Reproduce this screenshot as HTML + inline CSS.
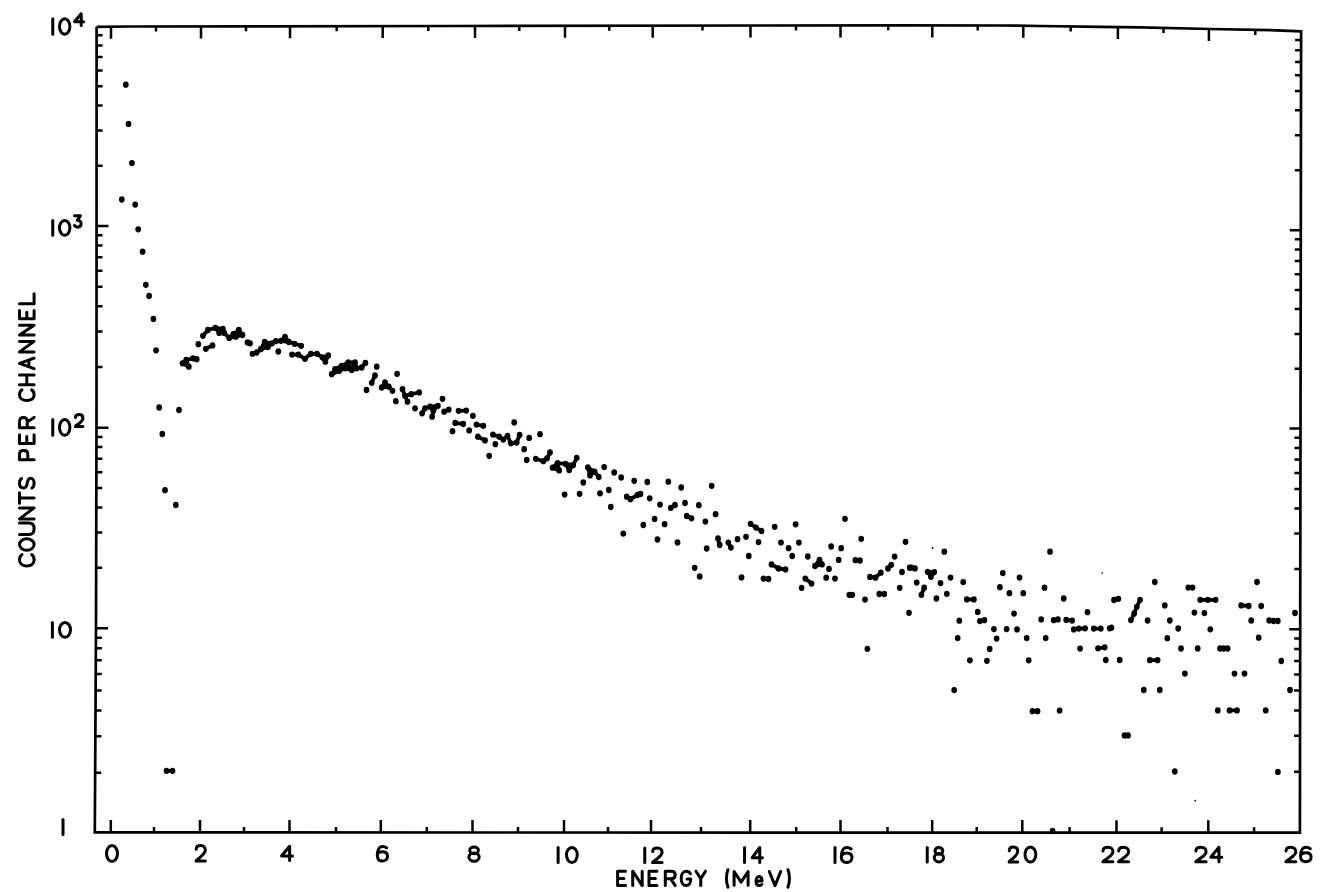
<!DOCTYPE html>
<html><head><meta charset="utf-8"><title>Counts per channel vs energy</title>
<style>html,body{margin:0;padding:0;background:#fff;width:1320px;height:892px;overflow:hidden;font-family:"Liberation Sans",sans-serif}svg{display:block}</style>
</head><body>
<svg width="1320" height="892" viewBox="0 0 1320 892"><polyline points="96.6,26.8 130.0,26.5 455.0,26.0 900.0,25.3 1000.0,25.5 1040.0,26.0 1100.0,26.8 1140.0,27.3 1210.0,29.0 1270.0,30.2 1301.1,31.3 1299.9,832.7 94.8,832.4 96.0,628.0 96.5,425.0 96.6,26.8" fill="none" stroke="#000" stroke-width="2.7" stroke-linejoin="miter"/>
<path d="M111.0 26.7V38.7M156.0 26.5V31.5M201.0 26.4V38.4M246.0 26.3V31.3M290.0 26.3V38.3M336.7 26.2V31.2M382.7 26.1V38.1M428.3 26.0V31.0M475.0 26.0V38.0M519.3 25.9V30.9M565.0 25.8V37.8M609.3 25.8V30.8M652.7 25.7V37.7M702.5 25.6V30.6M750.5 25.5V37.5M796.0 25.5V30.5M840.5 25.4V37.4M888.2 25.3V30.3M932.3 25.4V37.4M977.7 25.5V30.5M1023.3 25.8V37.8M1070.7 26.4V31.4M1117.9 27.0V39.0M1163.5 27.9V32.9M1208.9 29.0V41.0M1255.3 29.9V34.9M110.8 832.4V819.9M154.0 832.4V826.9M200.0 832.4V819.9M244.0 832.4V826.9M289.5 832.4V819.9M336.0 832.5V827.0M380.8 832.5V820.0M426.8 832.5V827.0M472.5 832.5V820.0M518.0 832.5V827.0M564.0 832.5V820.0M608.0 832.5V827.0M651.0 832.5V820.0M701.0 832.6V827.1M750.2 832.6V820.1M796.2 832.6V827.1M840.5 832.6V820.1M887.5 832.6V827.1M932.2 832.6V820.1M976.7 832.6V827.1M1022.3 832.6V820.1M1069.6 832.6V827.1M1116.5 832.7V820.2M1161.6 832.7V827.2M1208.3 832.7V820.2M1254.1 832.7V827.2M96.5 226.0H108.5M1300.8 230.2H1289.8M96.6 165.8H102.6M1300.9 170.2H1294.9M96.6 130.6H102.6M1300.9 135.2H1294.9M96.6 105.6H102.6M1301.0 110.3H1295.0M96.6 86.2H102.6M1301.0 91.0H1295.0M96.6 70.4H102.6M1301.0 75.2H1295.0M96.6 57.0H102.6M1301.1 61.9H1295.1M96.6 45.4H102.6M1301.1 50.3H1295.1M96.6 35.2H102.6M1301.1 40.1H1295.1M96.5 427.7H108.5M1300.5 428.5H1289.5M96.5 367.0H102.5M1300.6 368.8H1294.6M96.5 331.5H102.5M1300.6 333.9H1294.6M96.5 306.3H102.5M1300.7 309.1H1294.7M96.5 286.7H102.5M1300.7 289.9H1294.7M96.5 270.7H102.5M1300.7 274.2H1294.7M96.5 257.2H102.5M1300.8 260.9H1294.8M96.5 245.5H102.5M1300.8 249.4H1294.8M96.5 235.2H102.5M1300.8 239.3H1294.8M96.0 628.2H108.0M1300.2 629.3H1289.2M96.1 567.8H102.1M1300.3 568.9H1294.3M96.2 532.5H102.2M1300.3 533.5H1294.3M96.3 507.5H102.3M1300.4 508.4H1294.4M96.3 488.1H102.3M1300.4 488.9H1294.4M96.4 472.2H102.4M1300.4 473.0H1294.4M96.4 458.8H102.4M1300.5 459.6H1294.5M96.4 447.1H102.4M1300.5 448.0H1294.5M96.5 436.9H102.5M1300.5 437.7H1294.5M95.2 772.7H101.2M1300.0 771.7H1294.0M95.4 736.3H101.4M1300.0 735.8H1294.0M95.5 710.5H101.5M1300.1 710.4H1294.1M95.6 690.5H101.6M1300.1 690.6H1294.1M95.7 674.1H101.7M1300.1 674.5H1294.1M95.8 660.2H101.8M1300.2 660.9H1294.2M95.9 648.2H101.9M1300.2 649.0H1294.2M95.9 637.7H101.9M1300.2 638.6H1294.2" stroke="#000" stroke-width="2.5" fill="none"/>
<g fill="#000"><ellipse cx="125.8" cy="84.7" rx="2.85" ry="3.15"/><ellipse cx="128.5" cy="123.9" rx="2.85" ry="3.15"/><ellipse cx="131.9" cy="163.1" rx="2.85" ry="3.15"/><ellipse cx="121.8" cy="199.5" rx="2.85" ry="3.15"/><ellipse cx="135.2" cy="204.6" rx="2.85" ry="3.15"/><ellipse cx="138.2" cy="229.3" rx="2.85" ry="3.15"/><ellipse cx="142.6" cy="251.7" rx="2.85" ry="3.15"/><ellipse cx="145.8" cy="284.8" rx="2.85" ry="3.15"/><ellipse cx="149.1" cy="296.0" rx="2.85" ry="3.15"/><ellipse cx="153.4" cy="318.9" rx="2.85" ry="3.15"/><ellipse cx="156.1" cy="350.3" rx="2.85" ry="3.15"/><ellipse cx="159.2" cy="407.5" rx="2.85" ry="3.15"/><ellipse cx="179.0" cy="410.0" rx="2.85" ry="3.15"/><ellipse cx="162.3" cy="434.0" rx="2.85" ry="3.15"/><ellipse cx="165.0" cy="490.2" rx="2.85" ry="3.15"/><ellipse cx="175.8" cy="505.0" rx="2.85" ry="3.15"/><ellipse cx="166.5" cy="770.8" rx="2.85" ry="3.15"/><ellipse cx="172.5" cy="770.8" rx="2.85" ry="3.15"/><ellipse cx="182.5" cy="363.3" rx="2.85" ry="3.15"/><ellipse cx="186.2" cy="360.0" rx="2.85" ry="3.15"/><ellipse cx="188.8" cy="366.7" rx="2.85" ry="3.15"/><ellipse cx="192.9" cy="358.3" rx="2.85" ry="3.15"/><ellipse cx="196.7" cy="359.2" rx="2.85" ry="3.15"/><ellipse cx="198.3" cy="344.2" rx="2.85" ry="3.15"/><ellipse cx="205.8" cy="348.8" rx="2.85" ry="3.15"/><ellipse cx="212.5" cy="345.4" rx="2.85" ry="3.15"/><ellipse cx="202.9" cy="335.8" rx="2.85" ry="3.15"/><ellipse cx="207.9" cy="330.0" rx="2.85" ry="3.15"/><ellipse cx="215.4" cy="327.9" rx="2.85" ry="3.15"/><ellipse cx="219.2" cy="332.9" rx="2.85" ry="3.15"/><ellipse cx="222.9" cy="328.8" rx="2.85" ry="3.15"/><ellipse cx="224.2" cy="332.9" rx="2.85" ry="3.15"/><ellipse cx="229.2" cy="337.9" rx="2.85" ry="3.15"/><ellipse cx="233.3" cy="334.2" rx="2.85" ry="3.15"/><ellipse cx="238.8" cy="330.0" rx="2.85" ry="3.15"/><ellipse cx="235.8" cy="336.7" rx="2.85" ry="3.15"/><ellipse cx="242.5" cy="335.0" rx="2.85" ry="3.15"/><ellipse cx="247.5" cy="342.5" rx="2.85" ry="3.15"/><ellipse cx="250.0" cy="343.3" rx="2.85" ry="3.15"/><ellipse cx="252.5" cy="353.8" rx="2.85" ry="3.15"/><ellipse cx="256.7" cy="352.5" rx="2.85" ry="3.15"/><ellipse cx="260.8" cy="349.2" rx="2.85" ry="3.15"/><ellipse cx="264.6" cy="342.0" rx="2.85" ry="3.15"/><ellipse cx="267.9" cy="347.0" rx="2.85" ry="3.15"/><ellipse cx="272.0" cy="343.3" rx="2.85" ry="3.15"/><ellipse cx="275.8" cy="341.2" rx="2.85" ry="3.15"/><ellipse cx="278.3" cy="351.5" rx="2.85" ry="3.15"/><ellipse cx="280.8" cy="340.8" rx="2.85" ry="3.15"/><ellipse cx="285.0" cy="337.0" rx="2.85" ry="3.15"/><ellipse cx="288.8" cy="342.0" rx="2.85" ry="3.15"/><ellipse cx="294.6" cy="343.8" rx="2.85" ry="3.15"/><ellipse cx="301.2" cy="345.8" rx="2.85" ry="3.15"/><ellipse cx="292.0" cy="354.6" rx="2.85" ry="3.15"/><ellipse cx="298.3" cy="354.6" rx="2.85" ry="3.15"/><ellipse cx="305.0" cy="358.8" rx="2.85" ry="3.15"/><ellipse cx="310.8" cy="353.8" rx="2.85" ry="3.15"/><ellipse cx="317.0" cy="353.8" rx="2.85" ry="3.15"/><ellipse cx="322.5" cy="357.5" rx="2.85" ry="3.15"/><ellipse cx="325.4" cy="361.7" rx="2.85" ry="3.15"/><ellipse cx="328.3" cy="355.4" rx="2.85" ry="3.15"/><ellipse cx="331.7" cy="374.2" rx="2.85" ry="3.15"/><ellipse cx="335.0" cy="369.2" rx="2.85" ry="3.15"/><ellipse cx="339.2" cy="370.8" rx="2.85" ry="3.15"/><ellipse cx="341.7" cy="365.8" rx="2.85" ry="3.15"/><ellipse cx="345.0" cy="368.3" rx="2.85" ry="3.15"/><ellipse cx="348.3" cy="362.5" rx="2.85" ry="3.15"/><ellipse cx="351.7" cy="370.0" rx="2.85" ry="3.15"/><ellipse cx="355.0" cy="362.5" rx="2.85" ry="3.15"/><ellipse cx="356.7" cy="368.3" rx="2.85" ry="3.15"/><ellipse cx="361.7" cy="367.5" rx="2.85" ry="3.15"/><ellipse cx="365.4" cy="362.9" rx="2.85" ry="3.15"/><ellipse cx="376.7" cy="366.7" rx="2.85" ry="3.15"/><ellipse cx="375.0" cy="375.4" rx="2.85" ry="3.15"/><ellipse cx="371.7" cy="382.8" rx="2.85" ry="3.15"/><ellipse cx="381.7" cy="387.5" rx="2.85" ry="3.15"/><ellipse cx="385.0" cy="382.5" rx="2.85" ry="3.15"/><ellipse cx="388.8" cy="386.7" rx="2.85" ry="3.15"/><ellipse cx="392.5" cy="390.8" rx="2.85" ry="3.15"/><ellipse cx="397.1" cy="373.8" rx="2.85" ry="3.15"/><ellipse cx="402.5" cy="389.2" rx="2.85" ry="3.15"/><ellipse cx="405.0" cy="395.8" rx="2.85" ry="3.15"/><ellipse cx="407.5" cy="401.7" rx="2.85" ry="3.15"/><ellipse cx="395.8" cy="401.2" rx="2.85" ry="3.15"/><ellipse cx="411.2" cy="394.2" rx="2.85" ry="3.15"/><ellipse cx="419.2" cy="392.5" rx="2.85" ry="3.15"/><ellipse cx="415.0" cy="408.3" rx="2.85" ry="3.15"/><ellipse cx="422.1" cy="413.3" rx="2.85" ry="3.15"/><ellipse cx="425.0" cy="408.3" rx="2.85" ry="3.15"/><ellipse cx="430.0" cy="406.7" rx="2.85" ry="3.15"/><ellipse cx="432.1" cy="416.7" rx="2.85" ry="3.15"/><ellipse cx="433.3" cy="410.8" rx="2.85" ry="3.15"/><ellipse cx="437.9" cy="405.8" rx="2.85" ry="3.15"/><ellipse cx="442.5" cy="398.8" rx="2.85" ry="3.15"/><ellipse cx="444.2" cy="411.7" rx="2.85" ry="3.15"/><ellipse cx="448.8" cy="409.6" rx="2.85" ry="3.15"/><ellipse cx="458.5" cy="410.8" rx="2.85" ry="3.15"/><ellipse cx="466.2" cy="410.6" rx="2.85" ry="3.15"/><ellipse cx="472.9" cy="415.8" rx="2.85" ry="3.15"/><ellipse cx="455.2" cy="422.9" rx="2.85" ry="3.15"/><ellipse cx="463.3" cy="424.0" rx="2.85" ry="3.15"/><ellipse cx="476.5" cy="424.6" rx="2.85" ry="3.15"/><ellipse cx="452.5" cy="431.2" rx="2.85" ry="3.15"/><ellipse cx="483.3" cy="425.8" rx="2.85" ry="3.15"/><ellipse cx="469.2" cy="430.4" rx="2.85" ry="3.15"/><ellipse cx="477.9" cy="436.7" rx="2.85" ry="3.15"/><ellipse cx="485.0" cy="440.4" rx="2.85" ry="3.15"/><ellipse cx="489.2" cy="455.8" rx="2.85" ry="3.15"/><ellipse cx="492.9" cy="434.6" rx="2.85" ry="3.15"/><ellipse cx="499.2" cy="436.7" rx="2.85" ry="3.15"/><ellipse cx="495.4" cy="444.2" rx="2.85" ry="3.15"/><ellipse cx="503.3" cy="439.6" rx="2.85" ry="3.15"/><ellipse cx="507.5" cy="435.8" rx="2.85" ry="3.15"/><ellipse cx="514.2" cy="422.5" rx="2.85" ry="3.15"/><ellipse cx="510.8" cy="443.3" rx="2.85" ry="3.15"/><ellipse cx="516.7" cy="442.5" rx="2.85" ry="3.15"/><ellipse cx="519.6" cy="435.0" rx="2.85" ry="3.15"/><ellipse cx="529.2" cy="437.9" rx="2.85" ry="3.15"/><ellipse cx="540.0" cy="434.2" rx="2.85" ry="3.15"/><ellipse cx="524.2" cy="449.2" rx="2.85" ry="3.15"/><ellipse cx="526.7" cy="460.0" rx="2.85" ry="3.15"/><ellipse cx="535.8" cy="458.8" rx="2.85" ry="3.15"/><ellipse cx="543.3" cy="461.2" rx="2.85" ry="3.15"/><ellipse cx="550.0" cy="452.5" rx="2.85" ry="3.15"/><ellipse cx="547.0" cy="458.3" rx="2.85" ry="3.15"/><ellipse cx="552.5" cy="467.7" rx="2.85" ry="3.15"/><ellipse cx="557.5" cy="463.1" rx="2.85" ry="3.15"/><ellipse cx="559.2" cy="470.4" rx="2.85" ry="3.15"/><ellipse cx="565.4" cy="463.8" rx="2.85" ry="3.15"/><ellipse cx="569.2" cy="470.0" rx="2.85" ry="3.15"/><ellipse cx="573.3" cy="465.0" rx="2.85" ry="3.15"/><ellipse cx="576.7" cy="457.9" rx="2.85" ry="3.15"/><ellipse cx="587.9" cy="467.5" rx="2.85" ry="3.15"/><ellipse cx="590.0" cy="475.4" rx="2.85" ry="3.15"/><ellipse cx="594.6" cy="471.7" rx="2.85" ry="3.15"/><ellipse cx="598.8" cy="477.0" rx="2.85" ry="3.15"/><ellipse cx="604.2" cy="467.1" rx="2.85" ry="3.15"/><ellipse cx="614.2" cy="472.5" rx="2.85" ry="3.15"/><ellipse cx="621.2" cy="477.5" rx="2.85" ry="3.15"/><ellipse cx="634.2" cy="480.8" rx="2.85" ry="3.15"/><ellipse cx="647.3" cy="482.0" rx="2.85" ry="3.15"/><ellipse cx="583.3" cy="482.5" rx="2.85" ry="3.15"/><ellipse cx="564.6" cy="494.6" rx="2.85" ry="3.15"/><ellipse cx="579.6" cy="493.8" rx="2.85" ry="3.15"/><ellipse cx="600.0" cy="493.3" rx="2.85" ry="3.15"/><ellipse cx="608.8" cy="490.0" rx="2.85" ry="3.15"/><ellipse cx="610.8" cy="507.0" rx="2.85" ry="3.15"/><ellipse cx="626.7" cy="496.7" rx="2.85" ry="3.15"/><ellipse cx="630.4" cy="499.2" rx="2.85" ry="3.15"/><ellipse cx="640.5" cy="494.0" rx="2.85" ry="3.15"/><ellipse cx="649.7" cy="498.3" rx="2.85" ry="3.15"/><ellipse cx="668.3" cy="481.7" rx="2.85" ry="3.15"/><ellipse cx="681.2" cy="487.5" rx="2.85" ry="3.15"/><ellipse cx="711.7" cy="485.8" rx="2.85" ry="3.15"/><ellipse cx="637.5" cy="495.0" rx="2.85" ry="3.15"/><ellipse cx="660.0" cy="504.6" rx="2.85" ry="3.15"/><ellipse cx="670.8" cy="507.9" rx="2.85" ry="3.15"/><ellipse cx="675.0" cy="505.0" rx="2.85" ry="3.15"/><ellipse cx="685.0" cy="502.9" rx="2.85" ry="3.15"/><ellipse cx="698.8" cy="505.2" rx="2.85" ry="3.15"/><ellipse cx="643.3" cy="525.0" rx="2.85" ry="3.15"/><ellipse cx="654.6" cy="518.9" rx="2.85" ry="3.15"/><ellipse cx="664.6" cy="524.2" rx="2.85" ry="3.15"/><ellipse cx="686.7" cy="516.0" rx="2.85" ry="3.15"/><ellipse cx="691.5" cy="518.3" rx="2.85" ry="3.15"/><ellipse cx="705.4" cy="521.6" rx="2.85" ry="3.15"/><ellipse cx="715.6" cy="514.2" rx="2.85" ry="3.15"/><ellipse cx="623.3" cy="533.6" rx="2.85" ry="3.15"/><ellipse cx="657.5" cy="539.5" rx="2.85" ry="3.15"/><ellipse cx="677.5" cy="542.5" rx="2.85" ry="3.15"/><ellipse cx="706.7" cy="548.5" rx="2.85" ry="3.15"/><ellipse cx="694.7" cy="567.8" rx="2.85" ry="3.15"/><ellipse cx="699.7" cy="576.5" rx="2.85" ry="3.15"/><ellipse cx="718.0" cy="538.5" rx="2.85" ry="3.15"/><ellipse cx="719.7" cy="545.0" rx="2.85" ry="3.15"/><ellipse cx="728.3" cy="542.6" rx="2.85" ry="3.15"/><ellipse cx="730.9" cy="547.6" rx="2.85" ry="3.15"/><ellipse cx="737.5" cy="539.2" rx="2.85" ry="3.15"/><ellipse cx="746.0" cy="536.8" rx="2.85" ry="3.15"/><ellipse cx="750.5" cy="523.8" rx="2.85" ry="3.15"/><ellipse cx="756.0" cy="527.6" rx="2.85" ry="3.15"/><ellipse cx="761.5" cy="531.0" rx="2.85" ry="3.15"/><ellipse cx="758.5" cy="542.1" rx="2.85" ry="3.15"/><ellipse cx="748.8" cy="556.0" rx="2.85" ry="3.15"/><ellipse cx="741.5" cy="577.4" rx="2.85" ry="3.15"/><ellipse cx="763.5" cy="578.6" rx="2.85" ry="3.15"/><ellipse cx="768.5" cy="579.0" rx="2.85" ry="3.15"/><ellipse cx="771.5" cy="564.4" rx="2.85" ry="3.15"/><ellipse cx="778.5" cy="568.5" rx="2.85" ry="3.15"/><ellipse cx="785.5" cy="569.4" rx="2.85" ry="3.15"/><ellipse cx="774.7" cy="526.8" rx="2.85" ry="3.15"/><ellipse cx="795.6" cy="524.3" rx="2.85" ry="3.15"/><ellipse cx="781.0" cy="542.6" rx="2.85" ry="3.15"/><ellipse cx="788.6" cy="548.2" rx="2.85" ry="3.15"/><ellipse cx="798.9" cy="542.6" rx="2.85" ry="3.15"/><ellipse cx="792.2" cy="556.0" rx="2.85" ry="3.15"/><ellipse cx="807.8" cy="556.5" rx="2.85" ry="3.15"/><ellipse cx="805.3" cy="578.6" rx="2.85" ry="3.15"/><ellipse cx="811.6" cy="583.6" rx="2.85" ry="3.15"/><ellipse cx="801.6" cy="587.8" rx="2.85" ry="3.15"/><ellipse cx="819.5" cy="559.9" rx="2.85" ry="3.15"/><ellipse cx="815.0" cy="566.0" rx="2.85" ry="3.15"/><ellipse cx="822.0" cy="564.4" rx="2.85" ry="3.15"/><ellipse cx="829.0" cy="568.9" rx="2.85" ry="3.15"/><ellipse cx="826.2" cy="577.7" rx="2.85" ry="3.15"/><ellipse cx="835.0" cy="578.6" rx="2.85" ry="3.15"/><ellipse cx="831.2" cy="546.5" rx="2.85" ry="3.15"/><ellipse cx="841.2" cy="548.2" rx="2.85" ry="3.15"/><ellipse cx="838.7" cy="559.9" rx="2.85" ry="3.15"/><ellipse cx="845.0" cy="518.8" rx="2.85" ry="3.15"/><ellipse cx="861.2" cy="538.8" rx="2.85" ry="3.15"/><ellipse cx="855.4" cy="560.2" rx="2.85" ry="3.15"/><ellipse cx="860.0" cy="560.5" rx="2.85" ry="3.15"/><ellipse cx="849.3" cy="594.8" rx="2.85" ry="3.15"/><ellipse cx="852.3" cy="594.8" rx="2.85" ry="3.15"/><ellipse cx="865.0" cy="599.6" rx="2.85" ry="3.15"/><ellipse cx="870.0" cy="576.9" rx="2.85" ry="3.15"/><ellipse cx="875.4" cy="577.7" rx="2.85" ry="3.15"/><ellipse cx="880.8" cy="572.7" rx="2.85" ry="3.15"/><ellipse cx="888.0" cy="568.5" rx="2.85" ry="3.15"/><ellipse cx="891.3" cy="564.8" rx="2.85" ry="3.15"/><ellipse cx="894.6" cy="556.6" rx="2.85" ry="3.15"/><ellipse cx="879.3" cy="594.0" rx="2.85" ry="3.15"/><ellipse cx="884.3" cy="594.0" rx="2.85" ry="3.15"/><ellipse cx="899.7" cy="587.8" rx="2.85" ry="3.15"/><ellipse cx="902.0" cy="572.0" rx="2.85" ry="3.15"/><ellipse cx="905.5" cy="541.8" rx="2.85" ry="3.15"/><ellipse cx="909.0" cy="612.8" rx="2.85" ry="3.15"/><ellipse cx="909.7" cy="567.7" rx="2.85" ry="3.15"/><ellipse cx="867.4" cy="648.8" rx="2.85" ry="3.15"/><ellipse cx="944.3" cy="551.7" rx="2.85" ry="3.15"/><ellipse cx="911.4" cy="567.6" rx="2.85" ry="3.15"/><ellipse cx="915.0" cy="568.4" rx="2.85" ry="3.15"/><ellipse cx="916.7" cy="582.6" rx="2.85" ry="3.15"/><ellipse cx="924.2" cy="587.7" rx="2.85" ry="3.15"/><ellipse cx="921.4" cy="594.8" rx="2.85" ry="3.15"/><ellipse cx="927.6" cy="571.8" rx="2.85" ry="3.15"/><ellipse cx="934.3" cy="572.1" rx="2.85" ry="3.15"/><ellipse cx="930.9" cy="576.8" rx="2.85" ry="3.15"/><ellipse cx="940.5" cy="583.1" rx="2.85" ry="3.15"/><ellipse cx="950.5" cy="577.6" rx="2.85" ry="3.15"/><ellipse cx="946.8" cy="593.8" rx="2.85" ry="3.15"/><ellipse cx="936.4" cy="598.5" rx="2.85" ry="3.15"/><ellipse cx="963.2" cy="582.1" rx="2.85" ry="3.15"/><ellipse cx="966.8" cy="599.4" rx="2.85" ry="3.15"/><ellipse cx="973.9" cy="599.4" rx="2.85" ry="3.15"/><ellipse cx="977.7" cy="611.9" rx="2.85" ry="3.15"/><ellipse cx="959.3" cy="620.7" rx="2.85" ry="3.15"/><ellipse cx="957.7" cy="638.1" rx="2.85" ry="3.15"/><ellipse cx="979.9" cy="621.1" rx="2.85" ry="3.15"/><ellipse cx="984.4" cy="620.2" rx="2.85" ry="3.15"/><ellipse cx="993.9" cy="629.1" rx="2.85" ry="3.15"/><ellipse cx="996.6" cy="638.6" rx="2.85" ry="3.15"/><ellipse cx="989.7" cy="649.0" rx="2.85" ry="3.15"/><ellipse cx="969.9" cy="660.3" rx="2.85" ry="3.15"/><ellipse cx="986.9" cy="660.8" rx="2.85" ry="3.15"/><ellipse cx="1002.8" cy="573.1" rx="2.85" ry="3.15"/><ellipse cx="1019.5" cy="577.6" rx="2.85" ry="3.15"/><ellipse cx="999.9" cy="587.2" rx="2.85" ry="3.15"/><ellipse cx="1009.4" cy="593.2" rx="2.85" ry="3.15"/><ellipse cx="1023.3" cy="593.2" rx="2.85" ry="3.15"/><ellipse cx="1014.0" cy="613.6" rx="2.85" ry="3.15"/><ellipse cx="1006.6" cy="629.1" rx="2.85" ry="3.15"/><ellipse cx="1017.0" cy="629.4" rx="2.85" ry="3.15"/><ellipse cx="1026.7" cy="638.1" rx="2.85" ry="3.15"/><ellipse cx="1028.7" cy="660.3" rx="2.85" ry="3.15"/><ellipse cx="1050.0" cy="551.7" rx="2.85" ry="3.15"/><ellipse cx="1044.5" cy="587.7" rx="2.85" ry="3.15"/><ellipse cx="1041.2" cy="619.4" rx="2.85" ry="3.15"/><ellipse cx="1045.7" cy="638.1" rx="2.85" ry="3.15"/><ellipse cx="1063.7" cy="598.5" rx="2.85" ry="3.15"/><ellipse cx="1053.7" cy="620.2" rx="2.85" ry="3.15"/><ellipse cx="1057.9" cy="619.4" rx="2.85" ry="3.15"/><ellipse cx="1066.2" cy="619.9" rx="2.85" ry="3.15"/><ellipse cx="1072.1" cy="620.6" rx="2.85" ry="3.15"/><ellipse cx="1087.5" cy="612.2" rx="2.85" ry="3.15"/><ellipse cx="1073.8" cy="629.4" rx="2.85" ry="3.15"/><ellipse cx="1078.8" cy="628.6" rx="2.85" ry="3.15"/><ellipse cx="1085.1" cy="628.3" rx="2.85" ry="3.15"/><ellipse cx="1093.8" cy="628.6" rx="2.85" ry="3.15"/><ellipse cx="1100.8" cy="628.6" rx="2.85" ry="3.15"/><ellipse cx="1109.7" cy="628.3" rx="2.85" ry="3.15"/><ellipse cx="1080.1" cy="648.6" rx="2.85" ry="3.15"/><ellipse cx="1098.0" cy="648.3" rx="2.85" ry="3.15"/><ellipse cx="1104.7" cy="647.3" rx="2.85" ry="3.15"/><ellipse cx="1105.8" cy="660.0" rx="2.85" ry="3.15"/><ellipse cx="1154.8" cy="582.0" rx="2.85" ry="3.15"/><ellipse cx="1188.3" cy="587.6" rx="2.85" ry="3.15"/><ellipse cx="1192.5" cy="587.6" rx="2.85" ry="3.15"/><ellipse cx="1114.0" cy="600.0" rx="2.85" ry="3.15"/><ellipse cx="1118.4" cy="598.8" rx="2.85" ry="3.15"/><ellipse cx="1140.1" cy="599.8" rx="2.85" ry="3.15"/><ellipse cx="1136.8" cy="606.8" rx="2.85" ry="3.15"/><ellipse cx="1134.2" cy="613.5" rx="2.85" ry="3.15"/><ellipse cx="1130.9" cy="620.1" rx="2.85" ry="3.15"/><ellipse cx="1164.8" cy="605.4" rx="2.85" ry="3.15"/><ellipse cx="1147.6" cy="620.5" rx="2.85" ry="3.15"/><ellipse cx="1169.8" cy="620.5" rx="2.85" ry="3.15"/><ellipse cx="1178.2" cy="628.5" rx="2.85" ry="3.15"/><ellipse cx="1167.3" cy="638.2" rx="2.85" ry="3.15"/><ellipse cx="1194.4" cy="612.6" rx="2.85" ry="3.15"/><ellipse cx="1204.4" cy="613.1" rx="2.85" ry="3.15"/><ellipse cx="1200.2" cy="599.8" rx="2.85" ry="3.15"/><ellipse cx="1207.8" cy="599.8" rx="2.85" ry="3.15"/><ellipse cx="1215.6" cy="599.8" rx="2.85" ry="3.15"/><ellipse cx="1210.3" cy="629.3" rx="2.85" ry="3.15"/><ellipse cx="1181.0" cy="648.5" rx="2.85" ry="3.15"/><ellipse cx="1197.7" cy="648.5" rx="2.85" ry="3.15"/><ellipse cx="1220.0" cy="648.5" rx="2.85" ry="3.15"/><ellipse cx="1223.6" cy="648.5" rx="2.85" ry="3.15"/><ellipse cx="1227.6" cy="648.5" rx="2.85" ry="3.15"/><ellipse cx="1257.0" cy="582.0" rx="2.85" ry="3.15"/><ellipse cx="1241.2" cy="605.4" rx="2.85" ry="3.15"/><ellipse cx="1248.7" cy="606.0" rx="2.85" ry="3.15"/><ellipse cx="1261.2" cy="606.0" rx="2.85" ry="3.15"/><ellipse cx="1251.2" cy="620.5" rx="2.85" ry="3.15"/><ellipse cx="1269.2" cy="620.5" rx="2.85" ry="3.15"/><ellipse cx="1273.5" cy="621.0" rx="2.85" ry="3.15"/><ellipse cx="1277.8" cy="621.0" rx="2.85" ry="3.15"/><ellipse cx="1258.7" cy="637.7" rx="2.85" ry="3.15"/><ellipse cx="1281.3" cy="661.0" rx="2.85" ry="3.15"/><ellipse cx="1234.5" cy="673.6" rx="2.85" ry="3.15"/><ellipse cx="1244.5" cy="673.6" rx="2.85" ry="3.15"/><ellipse cx="1184.9" cy="673.6" rx="2.85" ry="3.15"/><ellipse cx="1149.8" cy="660.2" rx="2.85" ry="3.15"/><ellipse cx="1157.6" cy="660.2" rx="2.85" ry="3.15"/><ellipse cx="1143.8" cy="690.0" rx="2.85" ry="3.15"/><ellipse cx="1159.8" cy="690.0" rx="2.85" ry="3.15"/><ellipse cx="1111.4" cy="627.7" rx="2.85" ry="3.15"/><ellipse cx="1119.7" cy="660.0" rx="2.85" ry="3.15"/><ellipse cx="1290.0" cy="690.0" rx="2.85" ry="3.15"/><ellipse cx="1295.0" cy="613.0" rx="2.85" ry="3.15"/><ellipse cx="1217.8" cy="710.4" rx="2.85" ry="3.15"/><ellipse cx="1229.5" cy="710.4" rx="2.85" ry="3.15"/><ellipse cx="1237.0" cy="710.4" rx="2.85" ry="3.15"/><ellipse cx="1265.7" cy="710.4" rx="2.85" ry="3.15"/><ellipse cx="1124.5" cy="735.4" rx="2.85" ry="3.15"/><ellipse cx="1128.0" cy="735.4" rx="2.85" ry="3.15"/><ellipse cx="1174.8" cy="771.5" rx="2.85" ry="3.15"/><ellipse cx="1277.9" cy="771.9" rx="2.85" ry="3.15"/><ellipse cx="954.2" cy="690.1" rx="2.85" ry="3.15"/><ellipse cx="1032.5" cy="711.2" rx="2.85" ry="3.15"/><ellipse cx="1037.5" cy="711.2" rx="2.85" ry="3.15"/><ellipse cx="1059.6" cy="710.6" rx="2.85" ry="3.15"/><ellipse cx="1052.6" cy="831.0" rx="2.85" ry="3.15"/><ellipse cx="366.5" cy="390.0" rx="2.85" ry="3.15"/></g>
<g fill="#000"><circle cx="932.6" cy="548.0" r="0.9"/><circle cx="1102.2" cy="573.1" r="0.8"/><circle cx="1195.2" cy="800.6" r="0.9"/></g>
<path d="M166.5 770.8L172.5 770.8M182.5 363.3L186.2 360.0M182.5 363.3L188.8 366.7M186.2 360.0L188.8 366.7M186.2 360.0L192.9 358.3M192.9 358.3L196.7 359.2M205.8 348.8L212.5 345.4M202.9 335.8L207.9 330.0M207.9 330.0L215.4 327.9M215.4 327.9L219.2 332.9M215.4 327.9L222.9 328.8M219.2 332.9L222.9 328.8M219.2 332.9L224.2 332.9M222.9 328.8L224.2 332.9M224.2 332.9L229.2 337.9M229.2 337.9L233.3 334.2M229.2 337.9L235.8 336.7M233.3 334.2L238.8 330.0M233.3 334.2L235.8 336.7M238.8 330.0L235.8 336.7M238.8 330.0L242.5 335.0M235.8 336.7L242.5 335.0M247.5 342.5L250.0 343.3M252.5 353.8L256.7 352.5M256.7 352.5L260.8 349.2M260.8 349.2L264.6 342.0M260.8 349.2L267.9 347.0M264.6 342.0L267.9 347.0M264.6 342.0L272.0 343.3M267.9 347.0L272.0 343.3M272.0 343.3L275.8 341.2M275.8 341.2L280.8 340.8M280.8 340.8L285.0 337.0M280.8 340.8L288.8 342.0M285.0 337.0L288.8 342.0M288.8 342.0L294.6 343.8M294.6 343.8L301.2 345.8M292.0 354.6L298.3 354.6M298.3 354.6L305.0 358.8M305.0 358.8L310.8 353.8M310.8 353.8L317.0 353.8M317.0 353.8L322.5 357.5M322.5 357.5L325.4 361.7M322.5 357.5L328.3 355.4M325.4 361.7L328.3 355.4M331.7 374.2L335.0 369.2M331.7 374.2L339.2 370.8M335.0 369.2L339.2 370.8M335.0 369.2L341.7 365.8M339.2 370.8L341.7 365.8M339.2 370.8L345.0 368.3M341.7 365.8L345.0 368.3M341.7 365.8L348.3 362.5M345.0 368.3L348.3 362.5M345.0 368.3L351.7 370.0M348.3 362.5L351.7 370.0M348.3 362.5L355.0 362.5M351.7 370.0L355.0 362.5M351.7 370.0L356.7 368.3M355.0 362.5L356.7 368.3M356.7 368.3L361.7 367.5M361.7 367.5L365.4 362.9M375.0 375.4L371.7 382.8M381.7 387.5L385.0 382.5M381.7 387.5L388.8 386.7M385.0 382.5L388.8 386.7M388.8 386.7L392.5 390.8M402.5 389.2L405.0 395.8M405.0 395.8L407.5 401.7M405.0 395.8L411.2 394.2M411.2 394.2L419.2 392.5M422.1 413.3L425.0 408.3M425.0 408.3L430.0 406.7M430.0 406.7L433.3 410.8M430.0 406.7L437.9 405.8M432.1 416.7L433.3 410.8M433.3 410.8L437.9 405.8M444.2 411.7L448.8 409.6M458.5 410.8L466.2 410.6M455.2 422.9L463.3 424.0M476.5 424.6L483.3 425.8M477.9 436.7L485.0 440.4M492.9 434.6L499.2 436.7M499.2 436.7L503.3 439.6M503.3 439.6L507.5 435.8M507.5 435.8L510.8 443.3M510.8 443.3L516.7 442.5M516.7 442.5L519.6 435.0M535.8 458.8L543.3 461.2M543.3 461.2L547.0 458.3M550.0 452.5L547.0 458.3M552.5 467.7L557.5 463.1M552.5 467.7L559.2 470.4M557.5 463.1L559.2 470.4M557.5 463.1L565.4 463.8M565.4 463.8L569.2 470.0M565.4 463.8L573.3 465.0M569.2 470.0L573.3 465.0M573.3 465.0L576.7 457.9M587.9 467.5L590.0 475.4M587.9 467.5L594.6 471.7M590.0 475.4L594.6 471.7M594.6 471.7L598.8 477.0M626.7 496.7L630.4 499.2M630.4 499.2L637.5 495.0M640.5 494.0L637.5 495.0M670.8 507.9L675.0 505.0M686.7 516.0L691.5 518.3M718.0 538.5L719.7 545.0M728.3 542.6L730.9 547.6M750.5 523.8L756.0 527.6M756.0 527.6L761.5 531.0M763.5 578.6L768.5 579.0M771.5 564.4L778.5 568.5M778.5 568.5L785.5 569.4M805.3 578.6L811.6 583.6M819.5 559.9L815.0 566.0M819.5 559.9L822.0 564.4M815.0 566.0L822.0 564.4M855.4 560.2L860.0 560.5M849.3 594.8L852.3 594.8M870.0 576.9L875.4 577.7M875.4 577.7L880.8 572.7M888.0 568.5L891.3 564.8M879.3 594.0L884.3 594.0M909.7 567.7L911.4 567.6M909.7 567.7L915.0 568.4M911.4 567.6L915.0 568.4M924.2 587.7L921.4 594.8M927.6 571.8L934.3 572.1M927.6 571.8L930.9 576.8M934.3 572.1L930.9 576.8M966.8 599.4L973.9 599.4M979.9 621.1L984.4 620.2M1053.7 620.2L1057.9 619.4M1066.2 619.9L1072.1 620.6M1073.8 629.4L1078.8 628.6M1078.8 628.6L1085.1 628.3M1093.8 628.6L1100.8 628.6M1109.7 628.3L1111.4 627.7M1098.0 648.3L1104.7 647.3M1188.3 587.6L1192.5 587.6M1114.0 600.0L1118.4 598.8M1140.1 599.8L1136.8 606.8M1136.8 606.8L1134.2 613.5M1134.2 613.5L1130.9 620.1M1200.2 599.8L1207.8 599.8M1207.8 599.8L1215.6 599.8M1220.0 648.5L1223.6 648.5M1220.0 648.5L1227.6 648.5M1223.6 648.5L1227.6 648.5M1241.2 605.4L1248.7 606.0M1269.2 620.5L1273.5 621.0M1273.5 621.0L1277.8 621.0M1149.8 660.2L1157.6 660.2M1229.5 710.4L1237.0 710.4M1124.5 735.4L1128.0 735.4M1032.5 711.2L1037.5 711.2" stroke="#000" stroke-width="3.8" fill="none"/>
<g fill="none" stroke="#000" stroke-width="3" stroke-linecap="round" stroke-linejoin="round"><ellipse cx="112.00" cy="853.50" rx="5.50" ry="8.00"/><path d="M196.19 849.30C196.19 846.65 198.32 845.40 200.65 845.40C203.44 845.40 205.30 847.27 205.30 850.08C205.30 853.20 202.70 855.07 199.53 857.88C197.40 859.44 196.00 860.22 196.00 861.00L205.30 861.00"/><path d="M289.64 860.50L289.64 846.30L281.50 855.96L292.50 855.96"/><path d="M386.68 847.87C385.46 846.84 384.03 846.40 382.60 846.40C379.34 846.40 377.30 850.08 377.30 855.22C377.30 859.04 379.34 861.10 382.40 861.10C385.46 861.10 387.50 859.04 387.50 856.25C387.50 853.46 385.46 851.84 382.40 851.84C379.34 851.84 377.30 853.75 377.30 855.51"/><ellipse cx="474.05" cy="850.28" rx="4.33" ry="3.38"/><ellipse cx="474.05" cy="857.12" rx="5.15" ry="4.18"/><path d="M558.12 847.50L558.12 862.50"/><ellipse cx="571.88" cy="855.00" rx="5.38" ry="7.50"/><path d="M644.75 848.00L644.75 862.50"/><path d="M652.69 851.62C652.69 849.16 654.90 848.00 657.30 848.00C660.18 848.00 662.10 849.74 662.10 852.35C662.10 855.25 659.41 856.99 656.15 859.60C653.94 861.05 652.50 861.77 652.50 862.50L662.10 862.50"/><path d="M744.55 847.50L744.55 862.50"/><path d="M759.75 862.50L759.75 847.50L752.20 857.70L762.40 857.70"/><path d="M835.00 847.50L835.00 862.50"/><path d="M851.14 849.00C849.86 847.95 848.36 847.50 846.86 847.50C843.44 847.50 841.30 851.25 841.30 856.50C841.30 860.40 843.44 862.50 846.65 862.50C849.86 862.50 852.00 860.40 852.00 857.55C852.00 854.70 849.86 853.05 846.65 853.05C843.44 853.05 841.30 855.00 841.30 856.80"/><path d="M927.25 847.50L927.25 862.00"/><ellipse cx="938.90" cy="850.91" rx="3.86" ry="3.41"/><ellipse cx="938.90" cy="857.79" rx="4.60" ry="4.21"/><path d="M1009.27 850.67C1009.27 848.11 1011.25 846.90 1013.40 846.90C1015.98 846.90 1017.70 848.71 1017.70 851.43C1017.70 854.45 1015.29 856.26 1012.37 858.98C1010.39 860.49 1009.10 861.25 1009.10 862.00L1017.70 862.00"/><ellipse cx="1030.40" cy="854.45" rx="5.40" ry="7.55"/><path d="M1103.00 850.92C1103.00 848.46 1105.33 847.30 1107.85 847.30C1110.88 847.30 1112.90 849.04 1112.90 851.65C1112.90 854.55 1110.07 856.29 1106.64 858.90C1104.32 860.35 1102.80 861.07 1102.80 861.80L1112.90 861.80"/><path d="M1118.70 850.92C1118.70 848.46 1121.03 847.30 1123.55 847.30C1126.58 847.30 1128.60 849.04 1128.60 851.65C1128.60 854.55 1125.77 856.29 1122.34 858.90C1120.01 860.35 1118.50 861.07 1118.50 861.80L1128.60 861.80"/><path d="M1195.91 850.92C1195.91 848.46 1198.30 847.30 1200.90 847.30C1204.02 847.30 1206.10 849.04 1206.10 851.65C1206.10 854.55 1203.19 856.29 1199.65 858.90C1197.26 860.35 1195.70 861.07 1195.70 861.80L1206.10 861.80"/><path d="M1218.94 861.80L1218.94 847.30L1210.80 857.16L1221.80 857.16"/><path d="M1286.00 850.92C1286.00 848.46 1288.30 847.30 1290.80 847.30C1293.80 847.30 1295.80 849.04 1295.80 851.65C1295.80 854.55 1293.00 856.29 1289.60 858.90C1287.30 860.35 1285.80 861.07 1285.80 861.80L1295.80 861.80"/><path d="M1310.25 848.75C1308.98 847.73 1307.50 847.30 1306.01 847.30C1302.62 847.30 1300.50 850.92 1300.50 856.00C1300.50 859.77 1302.62 861.80 1305.80 861.80C1308.98 861.80 1311.10 859.77 1311.10 857.01C1311.10 854.26 1308.98 852.66 1305.80 852.66C1302.62 852.66 1300.50 854.55 1300.50 856.29"/><path d="M52.75 18.80L52.75 34.20"/><ellipse cx="64.70" cy="26.50" rx="5.20" ry="7.70"/><path d="M81.21 25.40L81.21 13.70L74.40 21.66L83.60 21.66"/><path d="M52.75 220.40L52.75 235.30"/><ellipse cx="64.70" cy="227.85" rx="5.20" ry="7.45"/><path d="M74.53 215.66L80.56 215.66L77.21 220.30C79.89 220.06 81.10 221.96 81.10 223.87C81.10 226.01 79.76 227.20 77.75 227.20C76.41 227.20 75.20 226.60 74.40 225.41"/><path d="M52.75 419.50L52.75 435.30"/><ellipse cx="64.70" cy="427.40" rx="5.20" ry="7.90"/><path d="M75.45 417.60C75.45 415.56 77.20 414.60 79.10 414.60C81.38 414.60 82.90 416.04 82.90 418.20C82.90 420.60 80.77 422.04 78.19 424.20C76.44 425.40 75.30 426.00 75.30 426.60L82.90 426.60"/><path d="M52.40 622.50L52.40 637.20"/><ellipse cx="65.00" cy="629.85" rx="5.50" ry="7.35"/><path d="M63.00 819.50L63.00 834.50"/><path d="M625.50 871.20L617.60 871.20L617.60 885.60L625.50 885.60M617.60 878.40L623.92 878.40"/><path d="M632.70 885.60L632.70 871.20L642.20 885.60L642.20 871.20"/><path d="M657.00 871.20L649.00 871.20L649.00 885.60L657.00 885.60M649.00 878.40L655.40 878.40"/><path d="M665.30 885.60L665.30 871.20L671.24 871.20C674.01 871.20 675.20 872.93 675.20 875.09C675.20 877.25 674.01 878.83 671.24 878.83L665.30 878.83M670.75 878.83L675.20 885.60"/><path d="M690.42 873.65C689.47 871.92 688.04 871.20 686.14 871.20C683.10 871.20 681.20 874.37 681.20 878.40C681.20 882.72 683.29 885.60 686.14 885.60C688.99 885.60 690.70 883.01 690.70 879.84L690.70 879.12L687.09 879.12"/><path d="M696.00 871.20L700.75 878.69L705.50 871.20M700.75 878.69L700.75 885.60"/><path d="M728.00 869.70C725.93 874.57 725.93 882.23 728.00 887.10"/><path d="M734.10 885.20L734.10 871.50L741.10 882.19L748.10 871.50L748.10 885.20"/><path d="M756.18 881.05L762.10 881.05C762.10 878.32 760.88 876.50 759.05 876.50C757.22 876.50 756.00 878.77 756.00 881.23C756.00 883.78 757.22 885.60 759.17 885.60C760.39 885.60 761.19 885.14 761.80 884.51"/><path d="M769.30 871.50L775.00 885.60L780.70 871.50"/><path d="M787.90 869.70C789.97 874.57 789.97 882.23 787.90 887.10"/><path d="M21.98 554.50C20.23 555.65 19.50 557.72 19.50 560.02C19.50 563.70 22.71 566.00 26.80 566.00C31.18 566.00 34.10 563.70 34.10 560.02C34.10 557.72 33.37 555.65 31.62 554.50"/><ellipse cx="26.80" cy="544.55" rx="7.30" ry="5.75"/><path d="M19.50 534.60L28.99 534.60C32.35 534.60 34.10 532.30 34.10 528.85C34.10 525.40 32.35 523.10 28.99 523.10L19.50 523.10"/><path d="M34.10 518.90L19.50 518.90L34.10 507.90L19.50 507.90"/><path d="M19.50 503.30L19.50 492.80M19.50 498.05L34.10 498.05"/><path d="M21.54 478.50C20.08 479.49 19.50 480.97 19.50 483.15C19.50 486.12 21.25 487.90 23.59 487.90C26.07 487.90 26.80 486.12 27.24 483.15C27.68 480.18 28.70 478.20 30.60 478.20C32.64 478.20 34.10 480.18 34.10 483.15C34.10 485.13 33.37 487.11 31.91 488.10"/><path d="M34.10 459.80L19.50 459.80L19.50 454.41C19.50 451.80 21.40 450.50 23.73 450.50C26.22 450.50 27.82 451.80 27.82 454.41L27.82 459.80"/><path d="M19.50 434.80L19.50 443.50L34.10 443.50L34.10 434.80M26.80 443.50L26.80 436.54"/><path d="M34.10 427.80L19.50 427.80L19.50 421.56C19.50 418.65 21.25 417.40 23.44 417.40C25.63 417.40 27.24 418.65 27.24 421.56L27.24 427.80M27.24 422.08L34.10 417.40"/><path d="M21.98 389.90C20.23 390.95 19.50 392.84 19.50 394.94C19.50 398.30 22.71 400.40 26.80 400.40C31.18 400.40 34.10 398.30 34.10 394.94C34.10 392.84 33.37 390.95 31.62 389.90"/><path d="M19.50 384.70L34.10 384.70M19.50 375.10L34.10 375.10M26.80 384.70L26.80 375.10"/><path d="M34.10 368.70L19.50 363.45L34.10 358.20M28.84 366.60L28.84 360.30"/><path d="M34.10 351.90L19.50 351.90L34.10 341.40L19.50 341.40"/><path d="M34.10 335.10L19.50 335.10L34.10 325.20L19.50 325.20"/><path d="M19.50 310.60L19.50 318.80L34.10 318.80L34.10 310.60M26.80 318.80L26.80 312.24"/><path d="M19.50 303.70L34.10 303.70L34.10 293.80"/></g></svg>
</body></html>
